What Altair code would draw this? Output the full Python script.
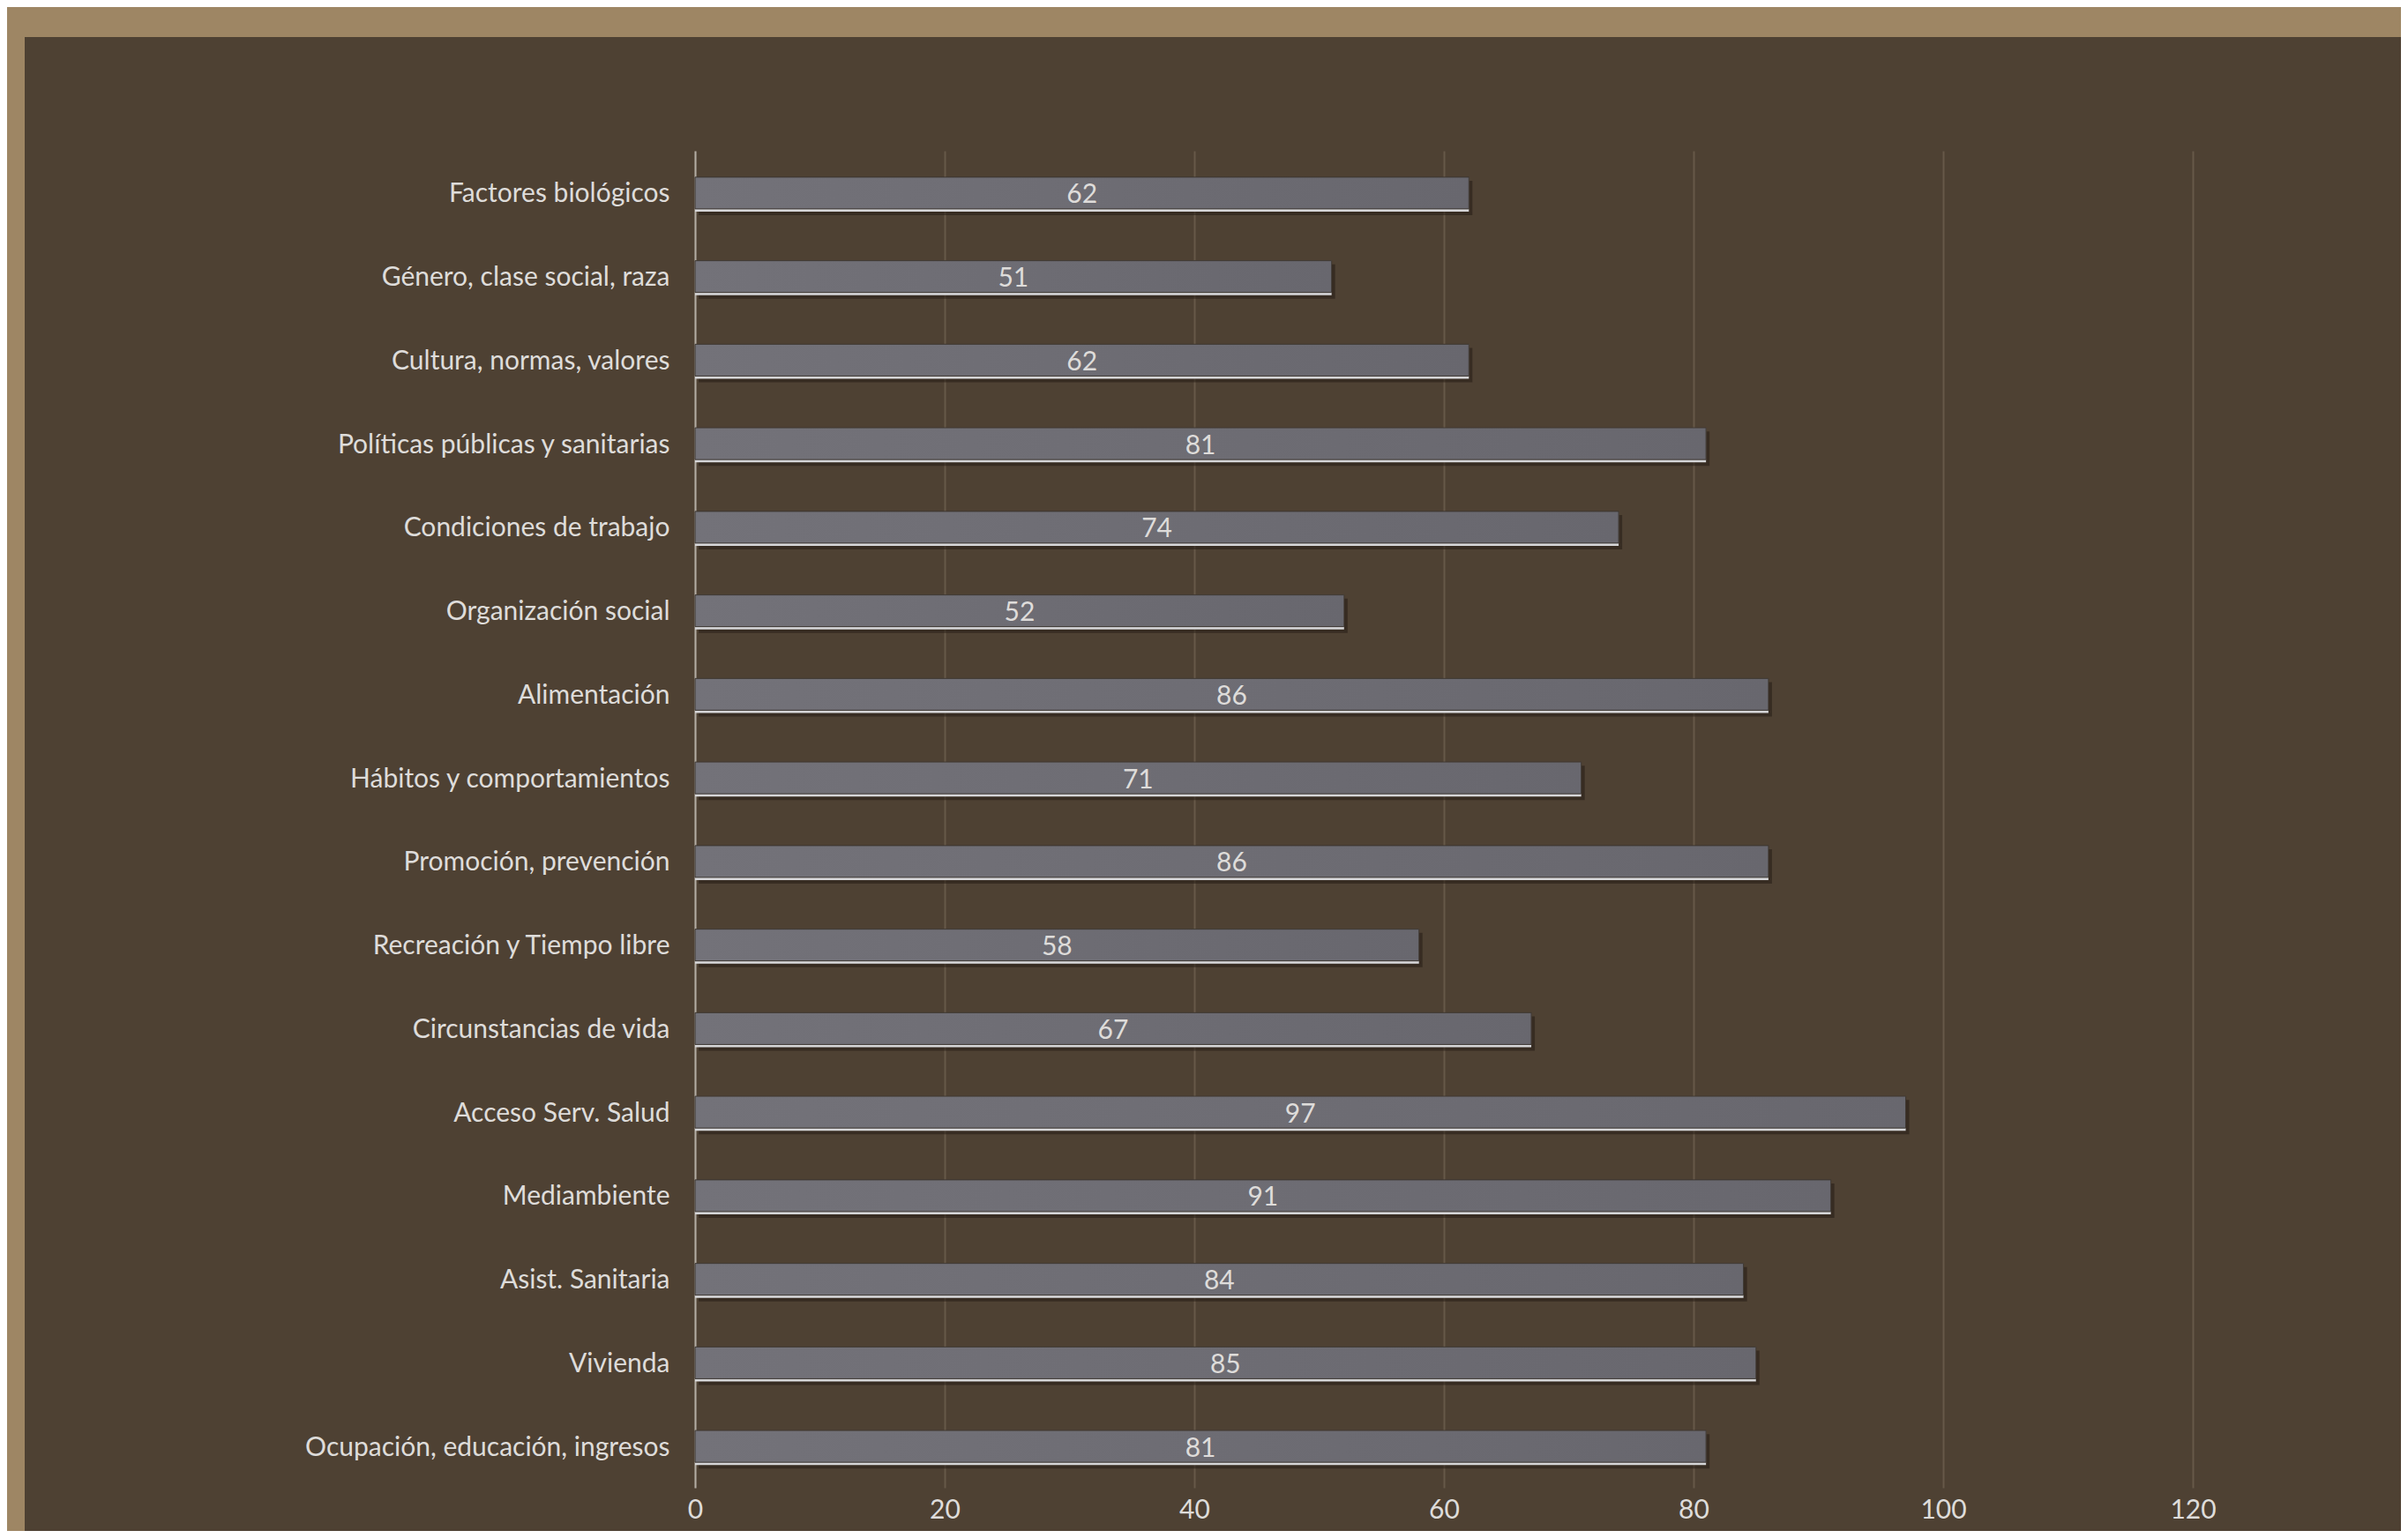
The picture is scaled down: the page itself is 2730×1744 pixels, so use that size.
import altair as alt
import pandas as pd

categories = [
    "Factores biológicos",
    "Género, clase social, raza",
    "Cultura, normas, valores",
    "Políticas públicas y sanitarias",
    "Condiciones de trabajo",
    "Organización social",
    "Alimentación",
    "Hábitos y comportamientos",
    "Promoción, prevención",
    "Recreación y Tiempo libre",
    "Circunstancias de vida",
    "Acceso Serv. Salud",
    "Mediambiente",
    "Asist. Sanitaria",
    "Vivienda",
    "Ocupación, educación, ingresos",
]
values = [62, 51, 62, 81, 74, 52, 86, 71, 86, 58, 67, 97, 91, 84, 85, 81]
x_ticks = [0, 20, 40, 60, 80, 100, 120]

df = pd.DataFrame({"cat": categories, "val": values})

W, H = 1698, 1516
PAD = {"left": 780, "top": 163, "right": 236, "bottom": 49}
FONT = "Lato"
BG = "#4e4133"
TAN = "#9e8664"
TXT = "#dedcda"
DY = 2

x_scale = alt.Scale(domain=[0, 120], nice=False, zero=True)
y_scale = alt.Scale(domain=categories, paddingInner=0, paddingOuter=0)

base = alt.Chart(df)

y_enc = alt.Y(
    "cat:N",
    scale=y_scale,
    sort=categories,
    axis=alt.Axis(
        title=None,
        labelFont=FONT,
        labelFontSize=30,
        labelColor=TXT,
        labelPadding=29,
        labelOffset=DY,
        ticks=False,
        domainColor="#b2aca4",
        domainWidth=2,
        grid=False,
        labelLimit=0,
    ),
)
x_enc = alt.X(
    "val:Q",
    scale=x_scale,
    axis=alt.Axis(
        title=None,
        values=x_ticks,
        labelFont=FONT,
        labelFontSize=30,
        labelColor=TXT,
        labelPadding=10,
        labelFlush=False,
        ticks=False,
        domain=False,
        grid=True,
        gridColor="#665949",
        gridWidth=2,
    ),
)

shadow = base.mark_bar(size=39, color="#241c14", opacity=0.55, xOffset=4, yOffset=4 + DY).encode(
    x=x_enc, y=y_enc
)
light = base.mark_bar(size=39, color="#d6d6d8", yOffset=DY).encode(x=x_enc, y=y_enc)
main = base.mark_bar(
    size=36,
    yOffset=DY - 1.5,
    color=alt.Gradient(
        gradient="linear",
        x1=0, y1=0, x2=1, y2=0,
        stops=[alt.GradientStop(color="#737279", offset=0),
               alt.GradientStop(color="#68676e", offset=1)],
    ),
    stroke="#3c3630",
    strokeWidth=1,
).encode(x=x_enc, y=y_enc)

labels = base.transform_calculate(mid="datum.val / 2").mark_text(
    font=FONT, fontSize=30, color=TXT, baseline="middle", align="center", yOffset=DY + 1
).encode(x=alt.X("mid:Q", scale=x_scale), y=alt.Y("cat:N", scale=y_scale, sort=categories), text="val:Q")

frame = alt.Chart(alt.Data(values=[{"k": 1}]))
tan_top = frame.mark_rect(color=TAN).encode(
    x=alt.value(-PAD["left"]), x2=alt.value(W + PAD["right"]),
    y=alt.value(-PAD["top"]), y2=alt.value(-129),
)
tan_left = frame.mark_rect(color=TAN).encode(
    x=alt.value(-PAD["left"]), x2=alt.value(-760),
    y=alt.value(-PAD["top"]), y2=alt.value(H + PAD["bottom"]),
)

chart = alt.layer(shadow, light, main, labels, tan_top, tan_left).properties(
    width=W,
    height=H,
    padding=PAD,
    autosize=alt.AutoSizeParams(type="none"),
    background=BG,
).configure_view(stroke=None)

chart.save("out.html", embed_options={"renderer": "svg", "actions": False})
